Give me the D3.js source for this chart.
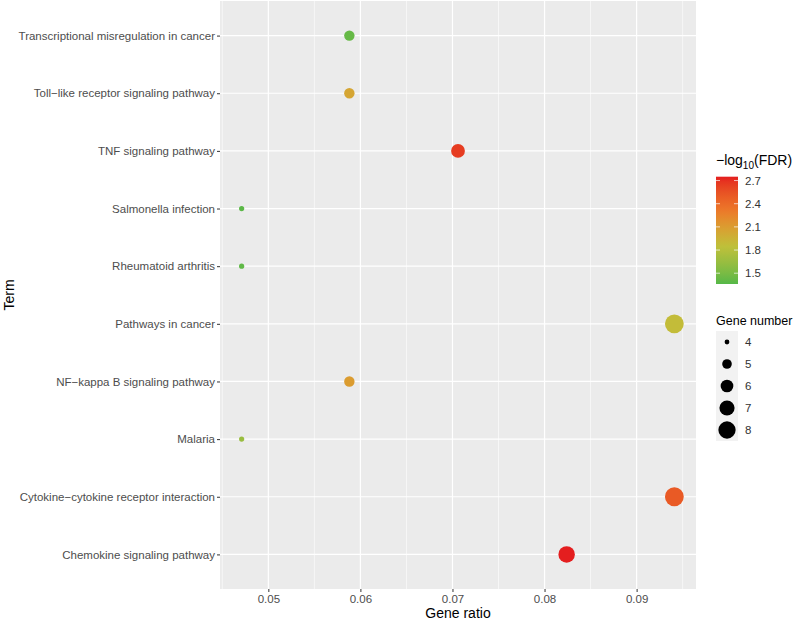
<!DOCTYPE html>
<html>
<head>
<meta charset="utf-8">
<script src="https://cdn.jsdelivr.net/npm/d3@7"></script>
<style>
  body { margin: 0; background: #fff; }
  text { font-family: "Liberation Sans", Arial, sans-serif; }
</style>
</head>
<body>
<svg class="chart"></svg>
<script>
// KEGG enrichment bubble chart
const width = 800
const height = 623
const margin = ({top: 1, right: 104, bottom: 34, left: 220})

// data
const terms = [
  'Chemokine signaling pathway',
  'Cytokine\u2212cytokine receptor interaction',
  'Malaria',
  'NF\u2212kappa B signaling pathway',
  'Pathways in cancer',
  'Rheumatoid arthritis',
  'Salmonella infection',
  'TNF signaling pathway',
  'Toll\u2212like receptor signaling pathway',
  'Transcriptional misregulation in cancer'
]
const geneNumber = [7, 8, 4, 5, 8, 4, 4, 6, 5, 5]
const geneRatio = [0.0824, 0.0941, 0.0471, 0.0588, 0.0941, 0.0471, 0.0471, 0.0706, 0.0588, 0.0588]
const logFDR = [2.75, 2.5, 1.65, 2.1, 1.88, 1.4, 1.38, 2.65, 2.04, 1.42]

const xTicks = [0.05, 0.06, 0.07, 0.08, 0.09]
const xMinor = [0.045, 0.055, 0.065, 0.075, 0.085, 0.095]
const colorTicks = [1.5, 1.8, 2.1, 2.4, 2.7]
const sizeTicks = [4, 5, 6, 7, 8]

const data = terms.map((t, i) => ({term: t, n: geneNumber[i], ratio: geneRatio[i], fdr: logFDR[i]}))

const svg = d3.select('svg.chart')
  .attr('width', width)
  .attr('height', height)

const panelL = margin.left, panelR = width - margin.right
const panelT = margin.top, panelB = height - margin.bottom

// scales
const xMin = d3.min(geneRatio), xMax = d3.max(geneRatio)
const pad = (xMax - xMin) * 0.05
const xScale = d3.scaleLinear()
  .domain([xMin - pad, xMax + pad])
  .range([panelL, panelR])

const yScale = d3.scalePoint()
  .domain(terms)
  .range([panelB, panelT])
  .padding(0.6)

const rScale = d3.scaleRadial()
  .domain([4, 8])
  .range([2.6, 9.4])

const colorDomain = [1.36, 2.75]
const colorScale = d3.scaleLinear()
  .domain([1.36, 1.85, 2.3, 2.75])
  .range(['#55b848', '#bfc03a', '#ec7a2a', '#e41e1f'])
  .interpolate(d3.interpolateLab)
  .clamp(true)

// panel background + grid
svg.append('rect')
  .attr('x', panelL).attr('y', panelT)
  .attr('width', panelR - panelL).attr('height', panelB - panelT)
  .attr('fill', '#ebebeb')

svg.append('g').selectAll('line.minor')
  .data(xMinor)
  .join('line')
  .attr('x1', d => xScale(d)).attr('x2', d => xScale(d))
  .attr('y1', panelT).attr('y2', panelB)
  .attr('stroke', '#fff').attr('stroke-width', 0.6)

svg.append('g').selectAll('line.major')
  .data(xTicks)
  .join('line')
  .attr('x1', d => xScale(d)).attr('x2', d => xScale(d))
  .attr('y1', panelT).attr('y2', panelB)
  .attr('stroke', '#fff').attr('stroke-width', 1.2)

svg.append('g').selectAll('line')
  .data(terms)
  .join('line')
  .attr('x1', panelL).attr('x2', panelR)
  .attr('y1', d => yScale(d)).attr('y2', d => yScale(d))
  .attr('stroke', '#fff').attr('stroke-width', 1.2)

// axes
const xAxis = d3.axisBottom(xScale)
  .tickValues(xTicks)
  .tickSize(3)
  .tickPadding(3)
  .tickFormat(d3.format('.2f'))

const xAxisGroup = svg.append('g')
  .attr('transform', `translate(0, ${panelB})`)
  .call(xAxis)
xAxisGroup.select('.domain').remove()
xAxisGroup.selectAll('line').attr('stroke', '#333')
xAxisGroup.selectAll('text').attr('fill', '#4d4d4d').style('font-size', '11.5px')

const yAxis = d3.axisLeft(yScale)
  .tickSize(3)
  .tickPadding(2)

const yAxisGroup = svg.append('g')
  .attr('transform', `translate(${panelL}, 0)`)
  .call(yAxis)
yAxisGroup.select('.domain').remove()
yAxisGroup.selectAll('line').attr('stroke', '#333')
yAxisGroup.selectAll('text').attr('fill', '#4d4d4d').style('font-size', '11.5px')

// axis titles
svg.append('text')
  .attr('x', (panelL + panelR) / 2).attr('y', 618)
  .attr('text-anchor', 'middle')
  .style('font-size', '14px')
  .text('Gene ratio')

svg.append('text')
  .attr('transform', `translate(14, ${(panelT + panelB) / 2}) rotate(-90)`)
  .attr('text-anchor', 'middle')
  .style('font-size', '14px')
  .text('Term')

// points
svg.append('g').selectAll('circle')
  .data(data)
  .join('circle')
  .attr('cx', d => xScale(d.ratio))
  .attr('cy', d => yScale(d.term))
  .attr('r', d => rScale(d.n))
  .attr('fill', d => colorScale(d.fdr))

//--------------------LEGENDS----------------------//
const legX = 716

// colour bar
const cbTop = 176.7, cbBot = 284, cbW = 22
const cbScale = d3.scaleLinear().domain(colorDomain).range([cbBot, cbTop])

const title1 = svg.append('text')
  .attr('x', legX).attr('y', 165)
  .style('font-size', '14px')
title1.append('tspan').text('\u2212log')
title1.append('tspan').attr('dy', 4).style('font-size', '10px').text('10')
title1.append('tspan').attr('dy', -4).text('(FDR)')

const grad = svg.append('defs').append('linearGradient')
  .attr('id', 'cb').attr('x1', 0).attr('x2', 0).attr('y1', 1).attr('y2', 0)
d3.range(0, 1.0001, 0.05).forEach(t => {
  grad.append('stop')
    .attr('offset', t)
    .attr('stop-color', colorScale(colorDomain[0] + t * (colorDomain[1] - colorDomain[0])))
})

svg.append('rect')
  .attr('x', legX).attr('y', cbTop)
  .attr('width', cbW).attr('height', cbBot - cbTop)
  .attr('fill', 'url(#cb)')

const cbTicks = svg.append('g').selectAll('g')
  .data(colorTicks)
  .join('g')
  .attr('transform', d => `translate(0, ${cbScale(d)})`)
cbTicks.append('line')
  .attr('x1', legX).attr('x2', legX + 4)
  .attr('stroke', '#fff').attr('stroke-opacity', 0.7)
cbTicks.append('line')
  .attr('x1', legX + cbW - 4).attr('x2', legX + cbW)
  .attr('stroke', '#fff').attr('stroke-opacity', 0.7)
cbTicks.append('text')
  .attr('x', legX + cbW + 7).attr('dy', '0.35em')
  .attr('fill', '#333')
  .style('font-size', '11.5px')
  .text(d => d.toFixed(1))

// size legend (title shrunk a bit so it fits inside the window)
svg.append('text')
  .attr('x', legX).attr('y', 325)
  .style('font-size', '12.5px')
  .text('Gene number')

const keyH = 22, keyTop = 331
svg.append('rect')
  .attr('x', legX).attr('y', keyTop)
  .attr('width', cbW).attr('height', keyH * sizeTicks.length)
  .attr('fill', '#f2f2f2')

const sizeKeys = svg.append('g').selectAll('g')
  .data(sizeTicks)
  .join('g')
  .attr('transform', (d, i) => `translate(${legX + cbW / 2}, ${keyTop + keyH * i + keyH / 2})`)
sizeKeys.append('circle')
  .attr('r', d => rScale(d) * 0.92)
  .attr('fill', '#000')
sizeKeys.append('text')
  .attr('x', cbW / 2 + 7).attr('dy', '0.35em')
  .attr('fill', '#333')
  .style('font-size', '11.5px')
  .text(d => d)
</script>
</body>
</html>
